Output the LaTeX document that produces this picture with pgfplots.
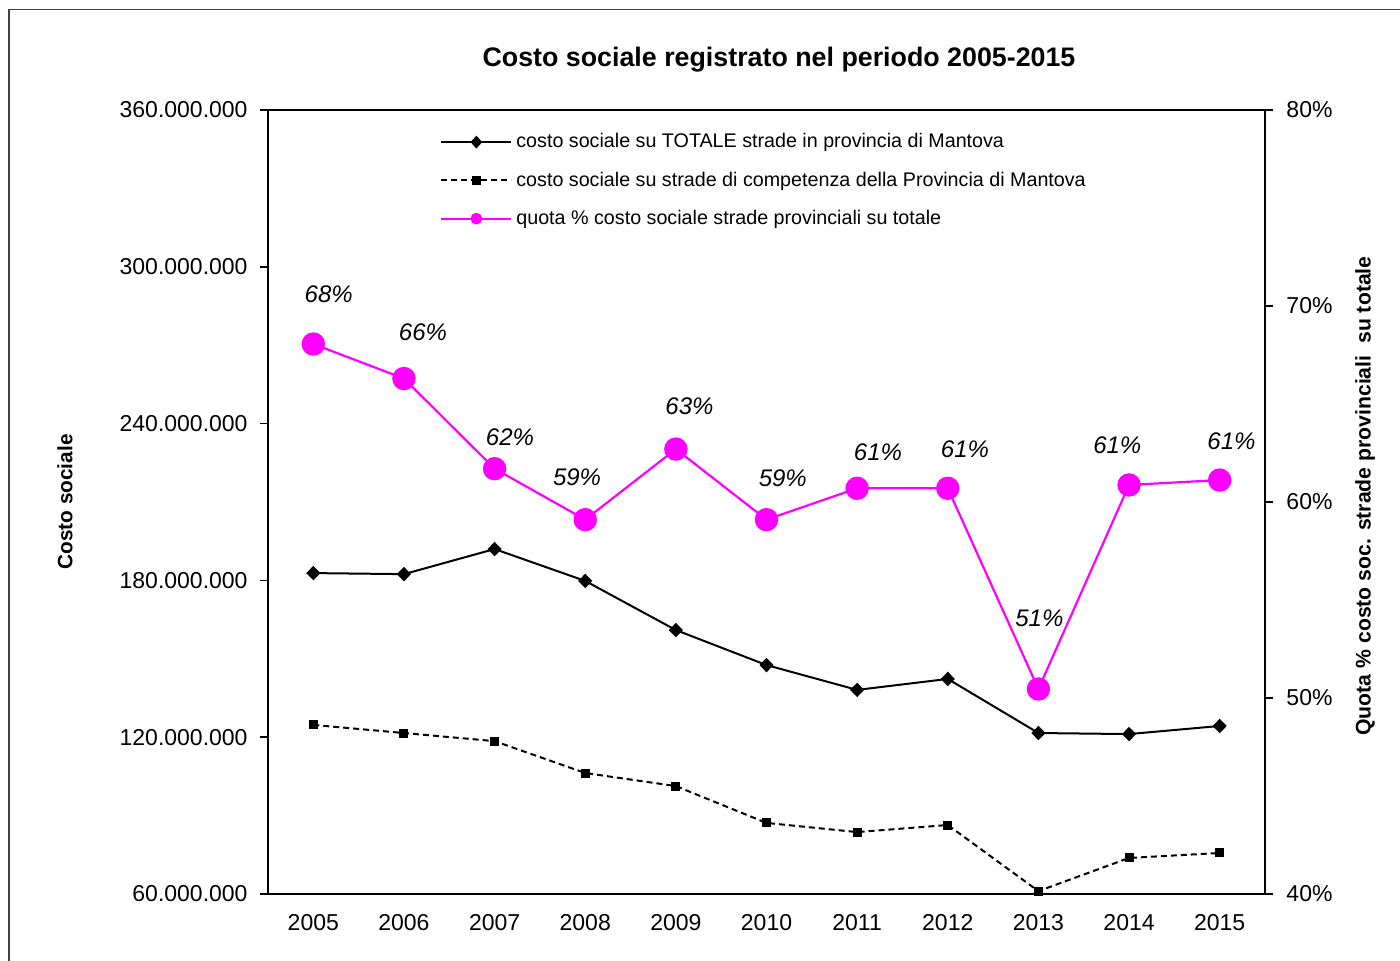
\documentclass[border=0pt]{standalone}
\usepackage{fontspec}
\setmainfont{Liberation Sans}
\usepackage{pgfplots}
\pgfplotsset{compat=1.18}
\definecolor{mag}{RGB}{255,0,255}
\begin{document}
\begin{tikzpicture}
\path[use as bounding box] (-134pt,-33pt) rectangle (566pt,447pt);
\pgfplotsset{
  every axis/.append style={
    scale only axis, width=498.5pt, height=392pt,
    xmin=2004.5, xmax=2015.5,
    at={(0,0)}, anchor=south west,
    tick align=outside, major tick length=4pt, minor tick length=4pt,
    /pgf/number format/assume math mode=true,
    tick label style={font=\fontsize{11.5}{13}\selectfont},
    axis line style={line width=0.8pt},
    every tick/.style={black, line width=0.8pt},
    legend image code/.code={\draw[mark repeat=2,mark phase=2,#1] plot coordinates {(0pt,0pt) (17.5pt,0pt) (35pt,0pt)};},
  }
}
\begin{axis}[
  ymin=60000000, ymax=360000000,
  ytick={60000000,120000000,180000000,240000000,300000000,360000000},
  scaled y ticks=false,
  yticklabel style={/pgf/number format/fixed, /pgf/number format/precision=0, /pgf/number format/1000 sep={.}, xshift=-2.7pt},
  xtick={2005,2006,2007,2008,2009,2010,2011,2012,2013,2014,2015},
  xticklabels={2005,2006,2007,2008,2009,2010,2011,2012,2013,2014,2015},
  xtick style={draw=none},
  minor xtick={2004.5,2005.5,2006.5,2007.5,2008.5,2009.5,2010.5,2011.5,2012.5,2013.5,2014.5,2015.5},
  xticklabel style={yshift=-2.7pt},
  xtick pos=left, ytick pos=left,
]
\addplot[black, line width=1pt, mark=diamond*, mark size=2.9pt, mark options={xscale=1.3}] coordinates {
(2005,182800000) (2006,182400000) (2007,192000000) (2008,179800000) (2009,161000000) (2010,147600000)
(2011,138100000) (2012,142300000) (2013,121600000) (2014,121200000) (2015,124300000)};
\addplot[black, line width=1pt, dash pattern=on 3pt off 2pt, mark=square*, mark size=1.75pt, mark options={solid}] coordinates {
(2005,124700000) (2006,121600000) (2007,118500000) (2008,106300000) (2009,101300000) (2010,87200000)
(2011,83700000) (2012,86400000) (2013,61100000) (2014,73800000) (2015,75700000)};
\end{axis}
\begin{axis}[
  ymin=40, ymax=80, ytick={40,50,60,70,80},
  yticklabel={\pgfmathprintnumber{\tick}\%},
  yticklabel style={xshift=3.2pt},
  axis y line*=right, axis x line=none,
  legend style={at={(0.1725,0.9757)}, anchor=north west, draw=none, fill=none, inner sep=0pt,
    font=\fontsize{9.85}{11}\selectfont, row sep=6.5pt, cells={anchor=west}},
]
\addlegendimage{black, line width=1pt, mark=diamond*, mark size=2.5pt, mark options={xscale=1.2}}
\addlegendentry{costo sociale su TOTALE strade in provincia di Mantova}
\addlegendimage{black, line width=1pt, dash pattern=on 3pt off 2pt, mark=square*, mark size=1.7pt, mark options={solid}}
\addlegendentry{costo sociale su strade di competenza della Provincia di Mantova}
\addlegendimage{mag, line width=1pt, mark=*, mark size=2.4pt}
\addlegendentry{quota \% costo sociale strade provinciali su totale}
\addplot[mag, line width=1.1pt, mark=*, mark size=5.3pt, forget plot] coordinates {
(2005,68.06) (2006,66.3) (2007,61.7) (2008,59.1) (2009,62.7) (2010,59.1)
(2011,60.7) (2012,60.7) (2013,50.46) (2014,60.87) (2015,61.12)};
\begin{scope}[every node/.style={font=\itshape\fontsize{12}{14}\selectfont}]
\node at (axis cs:2005.17,70.61) {68\%};
\node at (axis cs:2006.21,68.67) {66\%};
\node at (axis cs:2007.17,63.32) {62\%};
\node at (axis cs:2007.91,61.28) {59\%};
\node at (axis cs:2009.15,64.90) {63\%};
\node at (axis cs:2010.18,61.22) {59\%};
\node at (axis cs:2011.23,62.55) {61\%};
\node at (axis cs:2012.19,62.70) {61\%};
\node at (axis cs:2013.01,54.08) {51\%};
\node at (axis cs:2013.87,62.91) {61\%};
\node at (axis cs:2015.13,63.11) {61\%};
\end{scope}
\end{axis}
\node[font=\bfseries\fontsize{13.4}{16}\selectfont] at (255.5pt,417pt) {Costo sociale registrato nel periodo 2005-2015};
\node[rotate=90, font=\bfseries\fontsize{10.4}{12}\selectfont] at (-101.5pt,196pt) {Costo sociale};
\node[rotate=90, font=\bfseries\fontsize{10.6}{12}\selectfont] at (548.5pt,199pt) {Quota \% costo soc. strade provinciali\ \ su totale};
\draw[line width=0.7pt, black!75] (-129.5pt,-40pt) -- (-129.5pt,442.25pt) -- (575pt,442.25pt);
\end{tikzpicture}
\end{document}
